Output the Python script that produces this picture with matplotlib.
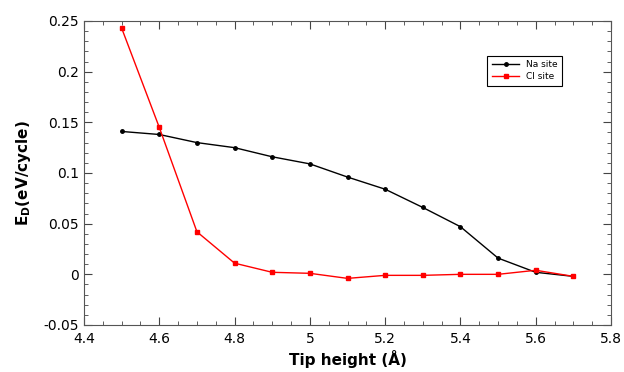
import matplotlib
matplotlib.use("Agg")
import matplotlib.pyplot as plt
from matplotlib.ticker import MultipleLocator, FuncFormatter

# tip heights (Angstrom)
tip_height = [4.5, 4.6, 4.7, 4.8, 4.9, 5.0, 5.1, 5.2, 5.3, 5.4, 5.5, 5.6, 5.7]
# dissipated energy per cycle (eV)
na_site = [0.141, 0.138, 0.130, 0.125, 0.116, 0.109, 0.096, 0.084, 0.066, 0.047, 0.016, 0.002, -0.002]
cl_site = [0.243, 0.145, 0.042, 0.011, 0.002, 0.001, -0.004, -0.001, -0.001, 0.000, -0.000, 0.004, -0.002]


def fmt_general(v, pos):
    s = f"{v:.2f}".rstrip("0").rstrip(".")
    return "0" if s in ("-0", "0") else s


fig = plt.figure(figsize=(6.24, 3.72), dpi=100)
ax = fig.add_axes([84 / 624, 47 / 372, 527 / 624, 304 / 372])

ax.plot(tip_height, na_site, color="black", lw=1, marker="o", ms=2.5, label="Na site")
ax.plot(tip_height, cl_site, color="red", lw=1, marker="s", ms=3.5, label="Cl site")

ax.set_xlim(4.4, 5.8)
ax.set_ylim(-0.05, 0.25)
ax.xaxis.set_major_locator(MultipleLocator(0.2))
ax.xaxis.set_minor_locator(MultipleLocator(0.05))
ax.yaxis.set_major_locator(MultipleLocator(0.05))
ax.yaxis.set_minor_locator(MultipleLocator(0.01))
ax.xaxis.set_major_formatter(FuncFormatter(fmt_general))
ax.yaxis.set_major_formatter(FuncFormatter(fmt_general))
ax.tick_params(which="both", direction="in", top=True, right=True, labelsize=10,
               color="#444444")
ax.tick_params(which="major", length=6)
ax.tick_params(which="minor", length=3)
ax.tick_params(axis="x", which="major", pad=5)
for sp in ax.spines.values():
    sp.set_color("#555555")

ax.set_xlabel("Tip height (Å)", fontweight="bold", fontsize=11, labelpad=3)
ax.set_ylabel("E$_\\mathbf{D}$(eV/cycle)", fontweight="bold", fontsize=11, labelpad=8)

leg = ax.legend(loc="upper left", bbox_to_anchor=(0.757, 0.9), fontsize=6.5,
                fancybox=False, edgecolor="black", framealpha=1,
                handlelength=3, borderpad=0.5, labelspacing=0.3)
leg.get_frame().set_linewidth(0.8)

fig.savefig("out.png", dpi=100)
